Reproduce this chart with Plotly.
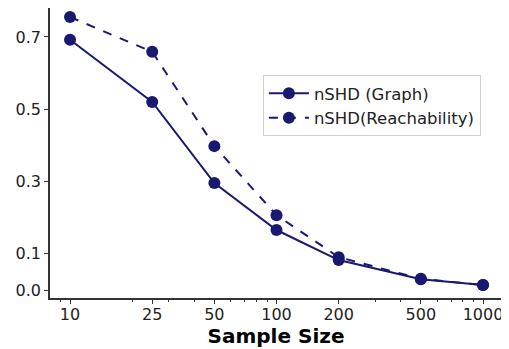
import plotly.graph_objects as go

sample_sizes = [10, 25, 50, 100, 200, 500, 1000]
nshd_graph = [0.692, 0.520, 0.296, 0.166, 0.083, 0.030, 0.014]
nshd_reach = [0.755, 0.659, 0.398, 0.207, 0.091, 0.031, 0.014]
x_ticks = [10, 25, 50, 100, 200, 500, 1000]
x_tick_labels = ["10", "25", "50", "100", "200", "500", "1000"]
y_ticks = [0.0, 0.1, 0.3, 0.5, 0.7]
y_tick_labels = ["0.0", "0.1", "0.3", "0.5", "0.7"]
minor_ticks = [9, 20, 30, 40, 60, 70, 80, 90, 300, 400, 600, 700, 800, 900]

color = "#191970"
fig = go.Figure()
fig.add_trace(go.Scatter(x=sample_sizes, y=nshd_graph, mode="lines+markers",
                         name="nSHD (Graph)",
                         line=dict(color=color, width=2),
                         marker=dict(color=color, size=12)))
fig.add_trace(go.Scatter(x=sample_sizes, y=nshd_reach, mode="lines+markers",
                         name="nSHD(Reachability)",
                         line=dict(color=color, width=2, dash="dash"),
                         marker=dict(color=color, size=12)))

# page body has an 8px margin, so the figure is drawn 8px smaller and shifted
fig.update_layout(
    width=501, height=341,
    margin=dict(l=42, r=7, t=0, b=51, autoexpand=False),
    paper_bgcolor="white", plot_bgcolor="white",
    font=dict(family="DejaVu Sans", size=16, color="#222"),
    showlegend=True,
    legend=dict(x=0.471, y=0.769, xanchor="left", yanchor="top",
                bgcolor="rgba(255,255,255,0.8)", bordercolor="#d0d0d0", borderwidth=1,
                font=dict(size=16.5), itemwidth=40, tracegroupgap=0),
)
fig.update_xaxes(type="log", range=[0.903, 3.092], automargin=False,
                 tickmode="array", tickvals=x_ticks, ticktext=x_tick_labels,
                 ticks="outside", ticklen=4, tickcolor="#333",
                 ticklabelstandoff=-3,
                 showline=True, linecolor="#333", linewidth=1.5, mirror=True,
                 showgrid=False, zeroline=False,
                 minor=dict(tickmode="array", tickvals=minor_ticks, ticks="outside",
                            ticklen=2.5, tickcolor="#333", showgrid=False),
                 title=dict(text="<b>Sample Size</b>", font=dict(size=20, color="black"), standoff=0))
fig.update_yaxes(range=[-0.022, 0.780], automargin=False,
                 tickmode="array", tickvals=y_ticks, ticktext=y_tick_labels,
                 ticks="outside", ticklen=4, tickcolor="#333",
                 showline=True, linecolor="#333", linewidth=1.5, mirror=True,
                 showgrid=False, zeroline=False)

fig.write_html("out.html")
